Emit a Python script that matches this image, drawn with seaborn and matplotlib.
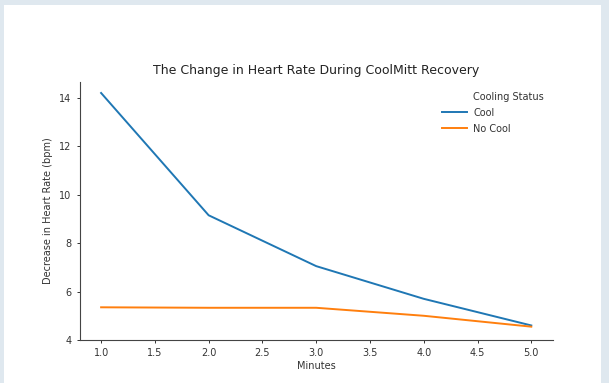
import pandas as pd
from matplotlib import pyplot as plt
from matplotlib.lines import Line2D
import seaborn as sns

# Values
minutes = [1.0, 2.0, 3.0, 4.0, 5.0]
cool = [14.2, 9.15, 7.05, 5.7, 4.6]
no_cool = [5.35, 5.33, 5.33, 5.0, 4.55]
groups = ["Cool", "No Cool"]

data = pd.DataFrame({
    "Minutes": minutes * 2,
    "Decrease": cool + no_cool,
    "Cooling Status": [groups[0]] * len(minutes) + [groups[1]] * len(minutes),
})

fig = plt.figure(figsize=(6.09, 3.83), dpi=100)
fig.patch.set_facecolor("#dfe8ef")
# white panel inside the light frame
fig.add_artist(plt.Rectangle((4 / 609, 0), 597 / 609, 378 / 383,
                             transform=fig.transFigure, facecolor="white",
                             edgecolor="none", zorder=-10))

ax = fig.add_axes([0.1307, 0.1123, 0.777, 0.674])
ax.set_facecolor("none")
sns.lineplot(data=data, x="Minutes", y="Decrease", hue="Cooling Status",
             palette=["#1f77b4", "#ff7f0e"], errorbar=None, linewidth=1.4, ax=ax)
sns.despine(ax=ax)

ax.set_xlim(0.8, 5.2)
ax.set_ylim(4.0, 14.66)
ax.set_xticks([1.0, 1.5, 2.0, 2.5, 3.0, 3.5, 4.0, 4.5, 5.0])
ax.set_yticks([4, 6, 8, 10, 12, 14])
ax.tick_params(labelsize=7, length=2.5, width=0.7, colors="#333333")
for s in ax.spines.values():
    s.set_linewidth(0.8)
    s.set_color("#444444")

ax.set_title("The Change in Heart Rate During CoolMitt Recovery", fontsize=9, color="#222222", pad=6)
ax.set_xlabel("Minutes", fontsize=7, color="#333333", labelpad=2)
ax.set_ylabel("Decrease in Heart Rate (bpm)", fontsize=7, color="#333333")

# old-style seaborn legend: the hue title sits as a row without a handle
handles, labels = ax.get_legend_handles_labels()
blank = Line2D([], [], color="none")
leg = ax.legend([blank] + handles, ["Cooling Status"] + labels, frameon=False, fontsize=7,
                loc="upper right", bbox_to_anchor=(1.0, 0.995), handlelength=2.6,
                handletextpad=0.6, labelspacing=0.6)
for t in leg.get_texts():
    t.set_color("#333333")

fig.savefig("out.png", dpi=100, facecolor=fig.get_facecolor())
